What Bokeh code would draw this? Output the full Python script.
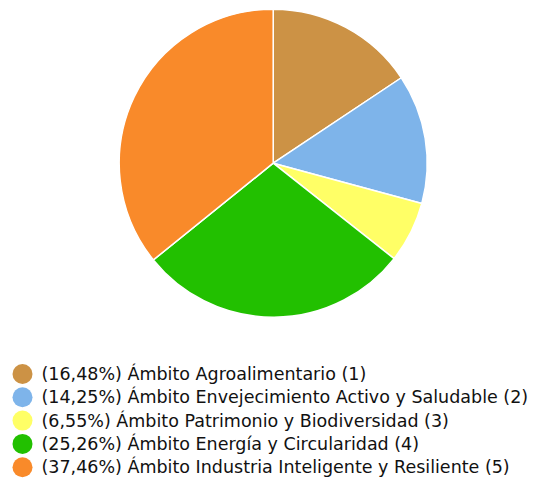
import numpy as np
from bokeh.plotting import figure
from bokeh.models import ColumnDataSource, Range1d
from bokeh.core.properties import value
from bokeh.embed import file_html
from bokeh.resources import INLINE

# Data
categories = [
    "Ámbito Agroalimentario (1)",
    "Ámbito Envejecimiento Activo y Saludable (2)",
    "Ámbito Patrimonio y Biodiversidad (3)",
    "Ámbito Energía y Circularidad (4)",
    "Ámbito Industria Inteligente y Resiliente (5)",
]
percent_labels = ["16,48%", "14,25%", "6,55%", "25,26%", "37,46%"]
slice_values = [15.64, 13.58, 6.42, 28.56, 35.81]
colors = ["#CC9245", "#7EB4EA", "#FFFF66", "#22C000", "#F98A2A"]

W, H = 535, 478
p = figure(width=W, height=H, output_backend="svg", toolbar_location=None,
           x_range=Range1d(0, W), y_range=Range1d(0, H),
           min_border=0, outline_line_color=None)
p.axis.visible = False
p.grid.visible = False
p.background_fill_color = "white"
p.border_fill_color = "white"

vals = np.array(slice_values, dtype=float)
frac = vals / vals.sum()
ang = frac * 2 * np.pi
ends = np.pi / 2 - np.concatenate([[0], np.cumsum(ang)[:-1]])
starts = ends - ang

cx, cy, r = 272.7, H - 162.7, 154
pie = ColumnDataSource(dict(start=starts, end=ends, color=colors))
p.wedge(x=cx, y=cy, radius=r, start_angle="start", end_angle="end",
        fill_color="color", line_color="white", line_width=1.5, source=pie)

n = len(categories)
row_y = [H - (373.5 + 23.3 * i) for i in range(n)]
labels = [f"({pl}) {c}" for pl, c in zip(percent_labels, categories)]
leg = ColumnDataSource(dict(x=[22] * n, tx=[41] * n, y=row_y,
                            color=colors, text=labels))
p.scatter(x="x", y="y", size=20, fill_color="color", line_color=None, source=leg)
p.text(x="tx", y="y", text="text", text_font=value("DejaVu Sans"),
       text_font_size="17.5px", text_baseline="middle", text_color="#111111", source=leg)

open("out.html", "w").write(file_html(p, INLINE))
